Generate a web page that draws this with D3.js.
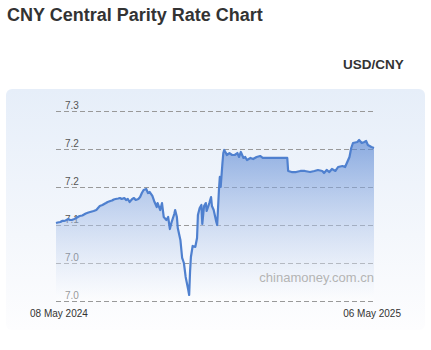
<!DOCTYPE html>
<html>
<head>
<meta charset="utf-8">
<script src="https://cdn.jsdelivr.net/npm/d3@7"></script>
<style>
  body { margin: 0; background: #fff; }
  svg { display: block; font-family: "Liberation Sans", Arial, sans-serif; }
</style>
</head>
<body>
<div id="chart"></div>
<script>
// day offsets from 08 May 2024 and the USD/CNY central parity
const startDate = new Date(2024, 4, 8);
const endDate = new Date(2025, 4, 6);

const dayOffset = [0,2,5,7,9,11,14,16,18,21,23,25,27,30,32,34,37,39,41,43,46,48,50,53,55,57,59,62,64,66,68,71,73,75,78,80,82,84,87,89,91,94,96,98,100,103,105,107,110,112,114,115,116,119,121,123,126,128,130,132,135,136,138,139,142,144,146,148,151,152,153,154,156,159,161,162,164,166,167,169,171,172,175,177,178,180,183,184,186,187,188,190,191,192,194,195,198,201,204,207,209,211,214,216,218,222,225,229,233,236,240,244,250,256,261,264,265,269,274,279,284,290,295,299,304,306,309,312,315,319,322,327,330,332,335,337,339,344,346,349,352,354,356,360,363];

const rate = [7.1026,7.1033,7.1039,7.1053,7.1053,7.1059,7.1079,7.1066,7.1066,7.1079,7.1092,7.1105,7.1118,7.1125,7.1138,7.1151,7.1164,7.1171,7.1178,7.1184,7.1197,7.1224,7.1250,7.1263,7.1276,7.1289,7.1303,7.1316,7.1322,7.1336,7.1342,7.1349,7.1355,7.1342,7.1355,7.1329,7.1342,7.1303,7.1342,7.1355,7.1329,7.1342,7.1368,7.1421,7.1461,7.1474,7.1421,7.1434,7.1382,7.1316,7.1263,7.1237,7.1289,7.1197,7.1289,7.1105,7.1066,7.1105,7.0947,7.1039,7.1145,7.1197,7.1105,7.0961,7.0803,7.0566,7.0500,7.0316,7.0145,7.0079,7.0382,7.0579,7.0724,7.0711,7.0829,7.1132,7.1224,7.1263,7.1013,7.1250,7.1289,7.1184,7.1289,7.1368,7.1250,7.1197,7.1039,7.1000,7.1461,7.1632,7.1500,7.1816,7.1947,7.1987,7.1947,7.1921,7.1947,7.1921,7.1921,7.1947,7.1895,7.1961,7.1882,7.1895,7.1855,7.1882,7.1868,7.1895,7.1908,7.1882,7.1882,7.1882,7.1882,7.1882,7.1882,7.1882,7.1711,7.1697,7.1697,7.1711,7.1711,7.1697,7.1711,7.1724,7.1711,7.1684,7.1724,7.1697,7.1737,7.1711,7.1763,7.1776,7.1763,7.1816,7.1895,7.2013,7.2079,7.2092,7.2118,7.2079,7.2092,7.2105,7.2053,7.2026,7.2013];

const yTicks = [7.25, 7.2, 7.15, 7.1, 7.05, 7.0];
const yTickLabels = ["7.3", "7.2", "7.2", "7.1", "7.0", "7.0"];
const xLabels = ["08 May 2024", "06 May 2025"];

const width = 431;
const height = 350;
const plot = { left: 56, right: 374, top: 111, bottom: 301 };

const data = dayOffset.map((d, i) => ({ date: d3.timeDay.offset(startDate, d), value: rate[i] }));

const svg = d3.select("#chart").append("svg")
    .attr("width", width)
    .attr("height", height);

const defs = svg.append("defs");

const panelGrad = defs.append("linearGradient")
    .attr("id", "panelGrad")
    .attr("x1", 0).attr("y1", 0).attr("x2", 0).attr("y2", 1);
panelGrad.append("stop").attr("offset", "0%").attr("stop-color", "#e6eef9");
panelGrad.append("stop").attr("offset", "100%").attr("stop-color", "#fdfdfe");

const areaGrad = defs.append("linearGradient")
    .attr("id", "areaGrad")
    .attr("x1", 0).attr("y1", 0).attr("x2", 0).attr("y2", 1);
areaGrad.append("stop").attr("offset", "0%").attr("stop-color", "#4f7fd0").attr("stop-opacity", 0.62);
areaGrad.append("stop").attr("offset", "100%").attr("stop-color", "#ffffff").attr("stop-opacity", 0.4);

// title
svg.append("text")
    .attr("x", 7)
    .attr("y", 21)
    .attr("font-size", 18)
    .attr("font-weight", "bold")
    .attr("fill", "#333")
    .text("CNY Central Parity Rate Chart");

svg.append("text")
    .attr("x", 343)
    .attr("y", 69)
    .attr("font-size", 13.5)
    .attr("font-weight", "bold")
    .attr("fill", "#333")
    .text("USD/CNY");

// background panel
svg.append("rect")
    .attr("x", 6)
    .attr("y", 89)
    .attr("width", 419)
    .attr("height", 241)
    .attr("rx", 6)
    .attr("fill", "url(#panelGrad)");

const x = d3.scaleTime()
    .domain([startDate, endDate])
    .range([plot.left, plot.right]);

const y = d3.scaleLinear()
    .domain([7.0, 7.25])
    .range([plot.bottom, plot.top]);

// grid lines
svg.append("g")
    .selectAll("line")
    .data(yTicks)
    .enter().append("line")
    .attr("x1", plot.left)
    .attr("x2", plot.right)
    .attr("y1", d => Math.round(y(d)) + 0.5)
    .attr("y2", d => Math.round(y(d)) + 0.5)
    .attr("stroke", "#999")
    .attr("stroke-dasharray", "5,3");

// tick labels sit above their grid line
svg.append("g")
    .selectAll("text")
    .data(yTicks)
    .enter().append("text")
    .attr("x", 65)
    .attr("y", d => y(d) - 2)
    .attr("font-size", 10)
    .attr("fill", "#555")
    .text((d, i) => yTickLabels[i]);

const area = d3.area()
    .x(d => x(d.date))
    .y0(y(7.0))
    .y1(d => y(d.value));

const line = d3.line()
    .x(d => x(d.date))
    .y(d => y(d.value));

svg.append("path")
    .datum(data)
    .attr("d", area)
    .attr("fill", "url(#areaGrad)");

svg.append("path")
    .datum(data)
    .attr("d", line)
    .attr("fill", "none")
    .attr("stroke", "#4f80cf")
    .attr("stroke-width", 2.2)
    .attr("stroke-linejoin", "round");

// watermark
svg.append("text")
    .attr("x", plot.right)
    .attr("y", 282)
    .attr("text-anchor", "end")
    .attr("font-size", 13)
    .attr("fill", "#b4b4b4")
    .text("chinamoney.com.cn");

// first and last date
svg.append("text")
    .attr("x", 30)
    .attr("y", 317)
    .attr("font-size", 10)
    .attr("fill", "#333")
    .text(xLabels[0]);

svg.append("text")
    .attr("x", 401)
    .attr("y", 317)
    .attr("text-anchor", "end")
    .attr("font-size", 10)
    .attr("fill", "#333")
    .text(xLabels[1]);
</script>
</body>
</html>
